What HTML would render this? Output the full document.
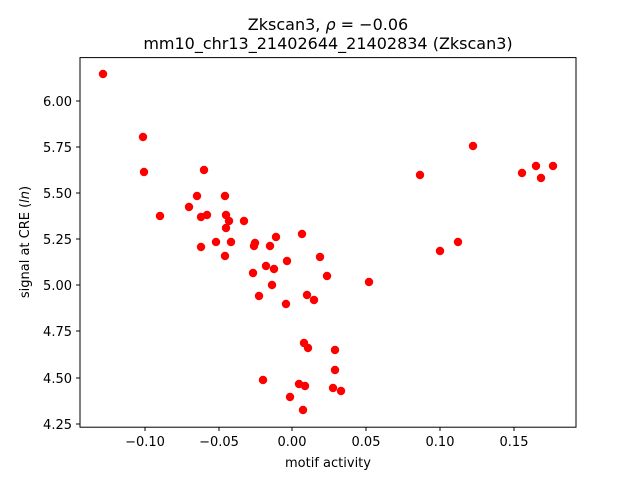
<!DOCTYPE html>
<html><head><style>body{margin:0;background:#fff}</style></head><body>
<svg width="640" height="480" xmlns="http://www.w3.org/2000/svg" font-family="DejaVu Sans, Liberation Sans, sans-serif">
<rect width="640" height="480" fill="#fff"/>
<g fill="#ff0000">
<circle cx="103" cy="74" r="4.2"/><circle cx="143" cy="137" r="4.2"/><circle cx="144" cy="172" r="4.2"/><circle cx="160" cy="216" r="4.2"/><circle cx="189" cy="207" r="4.2"/><circle cx="197" cy="196" r="4.2"/><circle cx="204" cy="170" r="4.2"/><circle cx="201" cy="217" r="4.2"/><circle cx="207" cy="215" r="4.2"/><circle cx="201" cy="247" r="4.2"/><circle cx="216" cy="242" r="4.2"/><circle cx="225" cy="196" r="4.2"/><circle cx="226" cy="215" r="4.2"/><circle cx="226" cy="228" r="4.2"/><circle cx="229" cy="221" r="4.2"/><circle cx="231" cy="242" r="4.2"/><circle cx="244" cy="221" r="4.2"/><circle cx="255" cy="243" r="4.2"/><circle cx="254" cy="246" r="4.2"/><circle cx="225" cy="256" r="4.2"/><circle cx="253" cy="273" r="4.2"/><circle cx="266" cy="266" r="4.2"/><circle cx="270" cy="246" r="4.2"/><circle cx="276" cy="237" r="4.2"/><circle cx="274" cy="269" r="4.2"/><circle cx="272" cy="285" r="4.2"/><circle cx="259" cy="296" r="4.2"/><circle cx="287" cy="261" r="4.2"/><circle cx="286" cy="304" r="4.2"/><circle cx="302" cy="234" r="4.2"/><circle cx="307" cy="295" r="4.2"/><circle cx="314" cy="300" r="4.2"/><circle cx="320" cy="257" r="4.2"/><circle cx="327" cy="276" r="4.2"/><circle cx="304" cy="343" r="4.2"/><circle cx="308" cy="348" r="4.2"/><circle cx="335" cy="350" r="4.2"/><circle cx="335" cy="370" r="4.2"/><circle cx="299" cy="384" r="4.2"/><circle cx="305" cy="386" r="4.2"/><circle cx="290" cy="397" r="4.2"/><circle cx="303" cy="410" r="4.2"/><circle cx="333" cy="388" r="4.2"/><circle cx="341" cy="391" r="4.2"/><circle cx="263" cy="380" r="4.2"/><circle cx="369" cy="282" r="4.2"/><circle cx="420" cy="175" r="4.2"/><circle cx="440" cy="251" r="4.2"/><circle cx="458" cy="242" r="4.2"/><circle cx="473" cy="146" r="4.2"/><circle cx="522" cy="173" r="4.2"/><circle cx="536" cy="166" r="4.2"/><circle cx="541" cy="178" r="4.2"/><circle cx="553" cy="166" r="4.2"/>
</g>
<rect x="80" y="57.6" width="496" height="369.6" fill="none" stroke="#000" stroke-width="1"/>
<g stroke="#000" stroke-width="1">
<line x1="145" y1="427" x2="145" y2="431"/><line x1="219" y1="427" x2="219" y2="431"/><line x1="292" y1="427" x2="292" y2="431"/><line x1="366" y1="427" x2="366" y2="431"/><line x1="440" y1="427" x2="440" y2="431"/><line x1="514" y1="427" x2="514" y2="431"/>
<line x1="76" y1="101" x2="80" y2="101"/><line x1="76" y1="147" x2="80" y2="147"/><line x1="76" y1="193" x2="80" y2="193"/><line x1="76" y1="239" x2="80" y2="239"/><line x1="76" y1="285" x2="80" y2="285"/><line x1="76" y1="331" x2="80" y2="331"/><line x1="76" y1="378" x2="80" y2="378"/><line x1="76" y1="424" x2="80" y2="424"/>
</g>
<g font-size="13" text-anchor="middle" fill="#000">
<text x="145" y="446">−0.10</text><text x="219" y="446">−0.05</text><text x="292" y="446">0.00</text><text x="366" y="446">0.05</text><text x="440" y="446">0.10</text><text x="514" y="446">0.15</text>
</g>
<g font-size="13" text-anchor="end" fill="#000">
<text x="72" y="106">6.00</text><text x="72" y="152">5.75</text><text x="72" y="198">5.50</text><text x="72" y="244">5.25</text><text x="72" y="290">5.00</text><text x="72" y="336">4.75</text><text x="72" y="383">4.50</text><text x="72" y="429">4.25</text>
</g>
<text x="328" y="467" font-size="13" text-anchor="middle">motif activity</text>
<text transform="translate(29,242) rotate(-90)" font-size="13" text-anchor="middle">signal at CRE (<tspan font-style="italic">ln</tspan>)</text>
<text x="328" y="30" font-size="16" text-anchor="middle">Zkscan3, <tspan font-style="italic">ρ</tspan> = −0.06</text>
<text x="328" y="49" font-size="16" text-anchor="middle">mm10_chr13_21402644_21402834 (Zkscan3)</text>
</svg>
</body></html>
